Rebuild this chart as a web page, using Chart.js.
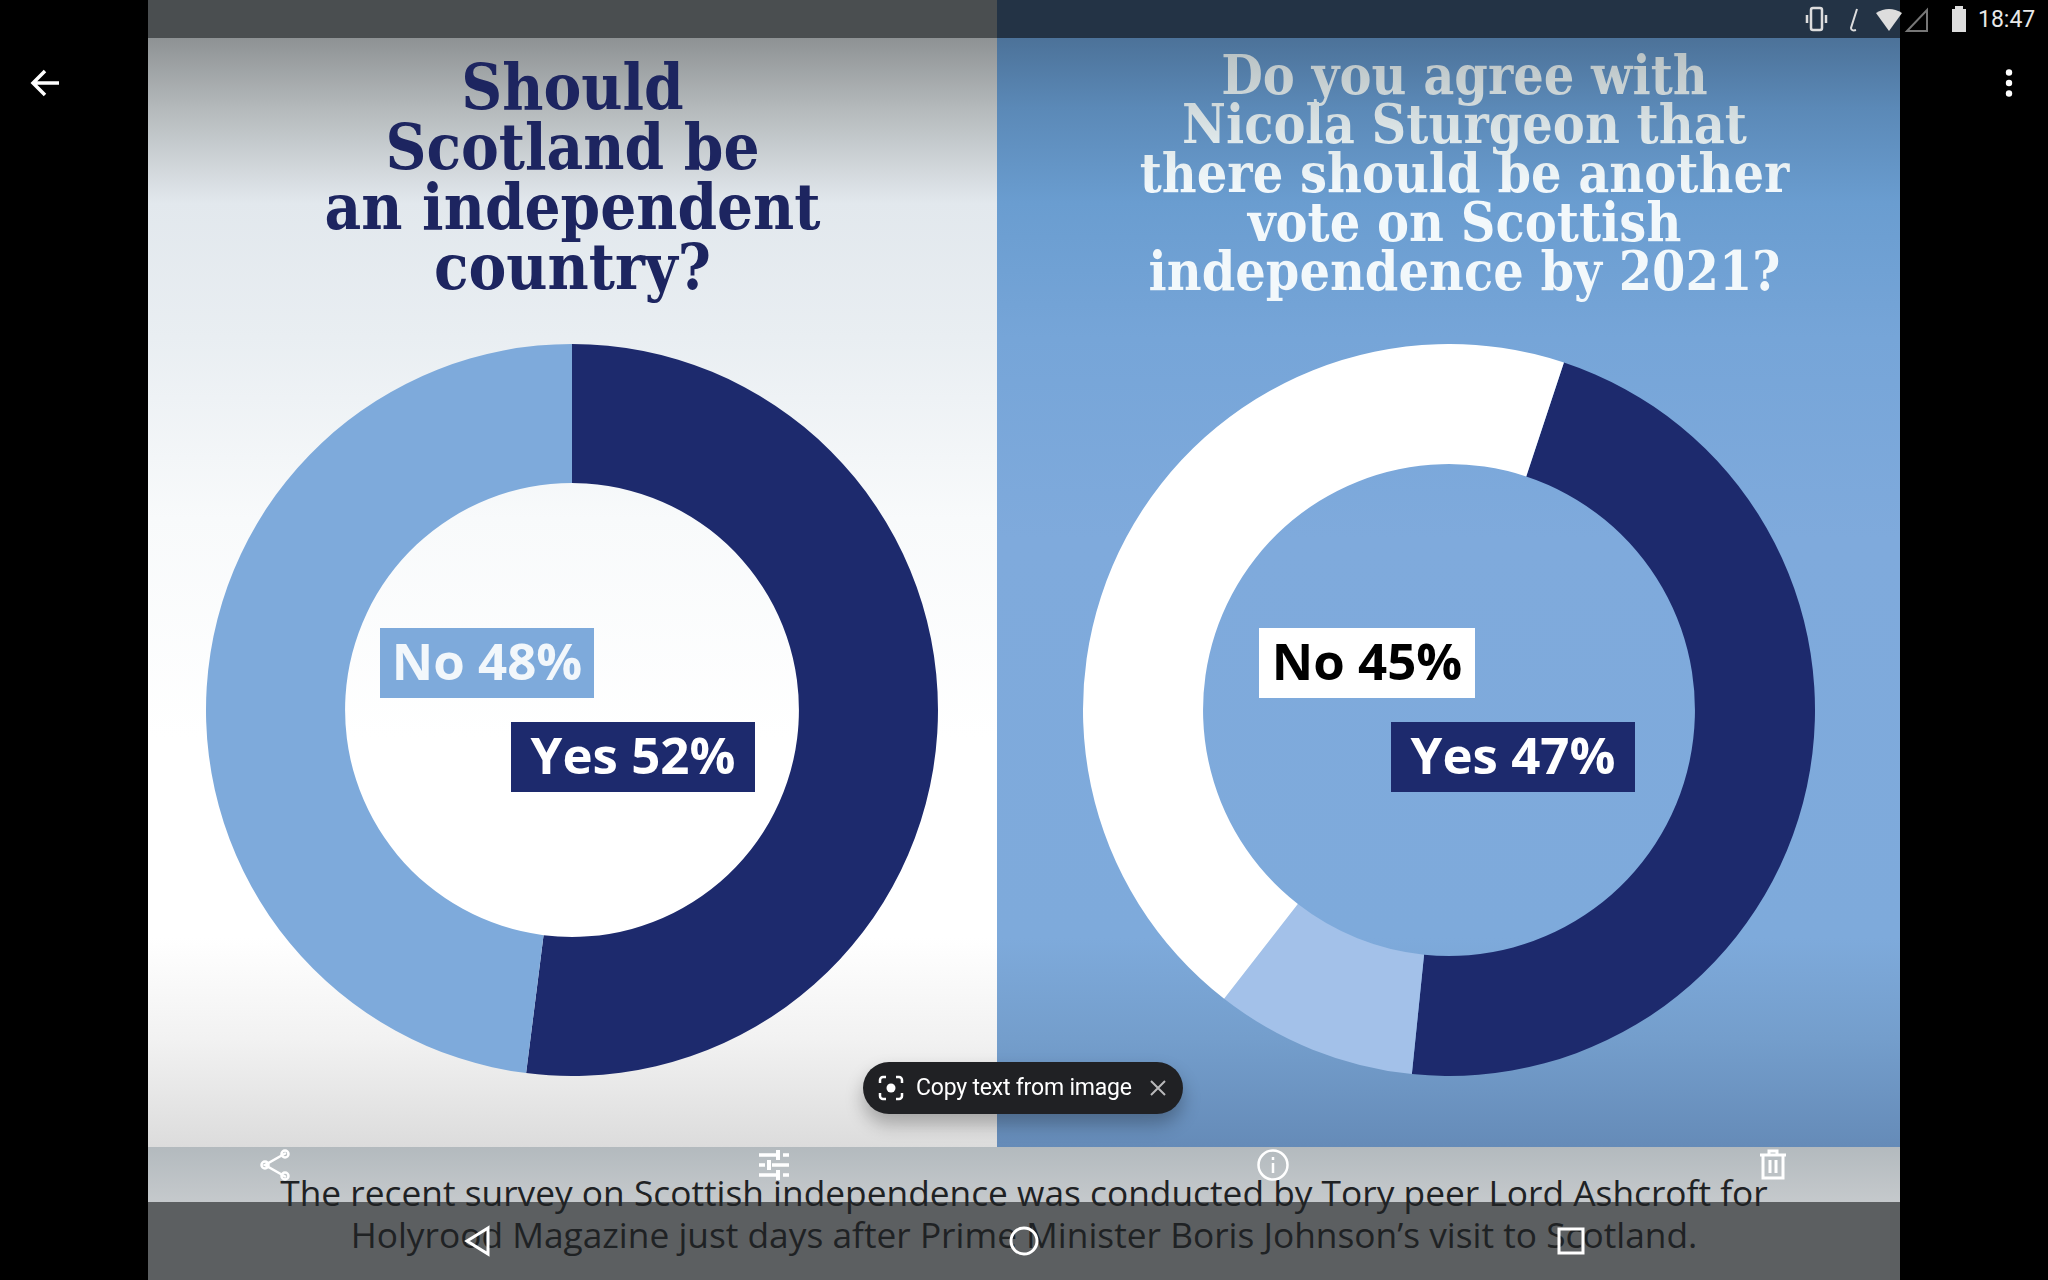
<!DOCTYPE html>
<html>
<head>
<meta charset="utf-8">
<script src="https://cdn.jsdelivr.net/npm/chart.js@4/dist/chart.umd.min.js"></script>
<style>
html, body { margin: 0; padding: 0; background: #000; }
#page { position: relative; width: 2048px; height: 1280px; overflow: hidden; background: #000; }
#page > * { position: absolute; }
#leftPanel { left: 148px; top: 38px; width: 849px; height: 1109px;
  background: linear-gradient(180deg, #8e9294 0, #b4b9bb 70px, #e2e8ed 165px, #e9eef2 300px, #f8fafb 480px, #fff 700px, #fff 900px, #f2f2f2 1000px, #dcdcdc 1109px); }
#rightPanel { left: 997px; top: 38px; width: 903px; height: 1109px;
  background: linear-gradient(180deg, #4c7299 0, #5b89b7 70px, #6a9dd0 165px, #76a5d8 300px, #7faadc 500px, #7eaadb 900px, #749ecc 1000px, #658bb8 1109px); }
#topLeft { left: 148px; top: 0; width: 849px; height: 38px; background: #4a4e50; }
#topRight { left: 997px; top: 0; width: 903px; height: 38px; background: #233345; }
#band { left: 148px; top: 1147px; width: 1752px; height: 55px; background: linear-gradient(180deg, #b3babe, #c5c9cc); }
#navBar { left: 148px; top: 1202px; width: 1752px; height: 78px; background: #5c5f61; }
.title { font-family: "DejaVu Serif Condensed", "DejaVu Serif", serif; font-stretch: condensed; font-weight: bold; text-align: center; white-space: pre-line; }
#titleLeft { left: 148px; top: 57px; width: 849px; font-size: 63px; line-height: 60px; color: #1d2560; }
#titleRight { left: 1013px; top: 51px; width: 903px; padding-bottom: 20px; font-size: 53.4px; line-height: 49px; }
#titleRight { background: linear-gradient(180deg, #b9c2c4 0, #dfe8ea 90px, #f2f8fb 140px); -webkit-background-clip: text; background-clip: text; color: transparent; }
.tag { font-family: "Open Sans", sans-serif; font-weight: bold; font-size: 51px; height: 70px; line-height: 64px; text-align: center; }
#caption { left: 148px; top: 1171px; width: 1752px; text-align: center; font-family: "Open Sans", sans-serif; font-size: 35.3px; line-height: 42px; color: #1f2224; white-space: pre-line; }
#pill { left: 863px; top: 1062px; width: 320px; height: 52px; border-radius: 26px; background: #202124; box-shadow: 0 10px 18px rgba(0,0,0,0.28); color: #fff; font-family: Roboto, sans-serif; font-size: 23px; line-height: 52px; }
#pill span { position: absolute; left: 53px; top: 0; white-space: nowrap; letter-spacing: -0.2px; }
#statusTime { left: 1978px; top: 6px; color: #e8e8e8; font-family: Roboto, sans-serif; font-size: 23px; }
svg { overflow: visible; }
</style>
</head>
<body>
<div id="page">
  <div id="leftPanel"></div>
  <div id="rightPanel"></div>
  <div id="topLeft"></div>
  <div id="topRight"></div>
  <div id="band"></div>
  <div id="navBar"></div>
  <div id="titleLeft" class="title"></div>
  <div id="titleRight" class="title"></div>
  <canvas id="donutLeft" width="732" height="732" style="left:206px;top:344px;width:732px;height:732px"></canvas>
  <canvas id="donutRight" width="732" height="732" style="left:1083px;top:344px;width:732px;height:732px"></canvas>
  <div id="tagNoLeft" class="tag" style="left:380px;top:628px;width:214px;background:#7eaadb;color:#f2f7fb"></div>
  <div id="tagYesLeft" class="tag" style="left:511px;top:722px;width:244px;background:#1d2a6d;color:#fff"></div>
  <div id="tagNoRight" class="tag" style="left:1259px;top:628px;width:216px;background:#fff;color:#000"></div>
  <div id="tagYesRight" class="tag" style="left:1391px;top:722px;width:244px;background:#1d2a6d;color:#fff"></div>
  <div id="caption"></div>
  <div id="pill">
    <svg width="24" height="24" style="position:absolute;left:16px;top:14px" fill="none" stroke="#fff" stroke-width="2.5">
      <path d="M1 7V4a3 3 0 0 1 3-3h3M17 1h3a3 3 0 0 1 3 3v3M23 17v3a3 3 0 0 1-3 3h-3M7 23H4a3 3 0 0 1-3-3v-3"/>
      <circle cx="12" cy="12" r="4.5" fill="#fff" stroke="none"/>
    </svg>
    <span>Copy text from image</span>
    <svg width="16" height="16" style="position:absolute;left:287px;top:18px" stroke="#b9b9bb" stroke-width="2"><path d="M1 1L15 15M15 1L1 15"/></svg>
  </div>

  <!-- status bar -->
  <svg width="20" height="26" style="left:1806px;top:6px" fill="none" stroke="#ddd" stroke-width="2.5"><rect x="5" y="2" width="11" height="22" rx="2"/><path d="M1 9v8M20 9v8"/></svg>
  <svg width="12" height="24" style="left:1848px;top:8px" fill="none" stroke="#ddd" stroke-width="2"><path d="M9 1L3 20c0 2 2 3 5 2"/></svg>
  <svg width="28" height="24" style="left:1875px;top:8px"><path d="M1 5Q14 -3 27 5L14 23Z" fill="#ddd"/></svg>
  <svg width="24" height="24" style="left:1905px;top:8px" fill="none" stroke="#777" stroke-width="2"><path d="M22 2V23H2Z"/></svg>
  <svg width="16" height="26" style="left:1951px;top:6px"><path d="M4 3V0h8v3h3v23H1V3Z" fill="#ddd"/></svg>
  <div id="statusTime">18:47</div>

  <!-- back / menu -->
  <svg width="30" height="28" style="left:30px;top:69px" fill="none" stroke="#fff" stroke-width="3.5"><path d="M29 14H3M15 2L3 14l12 12"/></svg>
  <svg width="8" height="28" style="left:2005px;top:69px" fill="#fff"><circle cx="4" cy="3.5" r="3.2"/><circle cx="4" cy="14" r="3.2"/><circle cx="4" cy="24.5" r="3.2"/></svg>

  <!-- viewer toolbar -->
  <svg width="32" height="32" style="left:259px;top:1149px" fill="none" stroke="#fff" stroke-width="2.5"><path d="M27 4L6 16l21 12"/><circle cx="26" cy="5" r="3.5"/><circle cx="6" cy="16" r="3.5"/><circle cx="26" cy="27" r="3.5"/></svg>
  <svg width="32" height="30" style="left:758px;top:1150px" stroke="#fff" stroke-width="3.5"><path d="M1 5H18M25 5H31M1 15H7M14 15H31M1 25H18M25 25H31"/><path d="M20 0V10M11 10V20M20 20V30" stroke-width="4"/></svg>
  <svg width="32" height="32" style="left:1257px;top:1149px" fill="none" stroke="#fff" stroke-width="2.5"><circle cx="16" cy="16" r="14.5"/><path d="M16 14V24M16 8V11"/></svg>
  <svg width="26" height="30" style="left:1760px;top:1150px" fill="none" stroke="#fff" stroke-width="3"><path d="M0 5H26M9 5V1H17V5M3 5V28H23V5M10 10V23M16 10V23"/></svg>

  <!-- navigation bar -->
  <svg width="26" height="30" style="left:464px;top:1226px" fill="none" stroke="#fff" stroke-width="3"><path d="M24 2L3 15l21 13Z"/></svg>
  <svg width="30" height="30" style="left:1009px;top:1226px" fill="none" stroke="#fff" stroke-width="3"><circle cx="15" cy="15" r="13"/></svg>
  <svg width="28" height="28" style="left:1557px;top:1227px" fill="none" stroke="#fff" stroke-width="3"><rect x="2" y="2" width="24" height="24"/></svg>
</div>

<script>
// titulos
const tituloIzq = ["Should", "Scotland be", "an independent", "country?"];
const tituloDer = ["Do you agree with", "Nicola Sturgeon that", "there should be another", "vote on Scottish", "independence by 2021?"];
const pieTexto = [
  "The recent survey on Scottish independence was conducted by Tory peer Lord Ashcroft for",
  "Holyrood Magazine just days after Prime Minister Boris Johnson\u2019s visit to Scotland."
];

// datos de las dos encuestas
const categoriasIzq = ["Yes", "No"];
const valoresIzq = [52, 48];
const coloresIzq = ["#1d2a6d", "#7eaadb"];

// el tercer sector no lleva rotulo, se lee del arco (los redondeos suman 101)
const categoriasDer = ["Yes", "Don't know", "No"];
const valoresDer = [47, 9, 45];
const coloresDer = ["#1d2a6d", "#a3c1e9", "#ffffff"];

function dona(id, categorias, valores, colores, hueco, giro) {
    const ctx = document.getElementById(id).getContext("2d");
    return new Chart(ctx, {
        type: "doughnut",
        data: {
            labels: categorias,
            datasets: [{
                data: valores,
                backgroundColor: colores,
                borderWidth: 0,
            }],
        },
        options: {
            responsive: false,
            animation: false,
            cutout: hueco,
            rotation: giro,
            layout: { padding: 0 },
            plugins: {
                legend: { display: false },
                tooltip: { enabled: false },
            },
        },
    });
}

dona("donutLeft", categoriasIzq, valoresIzq, coloresIzq, "62%", 0);
dona("donutRight", categoriasDer, valoresDer, coloresDer, "67.2%", 18.3);

function etiqueta(id, categorias, valores, nombre) {
    const i = categorias.indexOf(nombre);
    document.getElementById(id).textContent = nombre + " " + valores[i] + "%";
}
etiqueta("tagNoLeft", categoriasIzq, valoresIzq, "No");
etiqueta("tagYesLeft", categoriasIzq, valoresIzq, "Yes");
etiqueta("tagNoRight", categoriasDer, valoresDer, "No");
etiqueta("tagYesRight", categoriasDer, valoresDer, "Yes");

document.getElementById("titleLeft").textContent = tituloIzq.join("\n");
document.getElementById("titleRight").textContent = tituloDer.join("\n");
document.getElementById("caption").textContent = pieTexto.join("\n");
</script>
</body>
</html>
